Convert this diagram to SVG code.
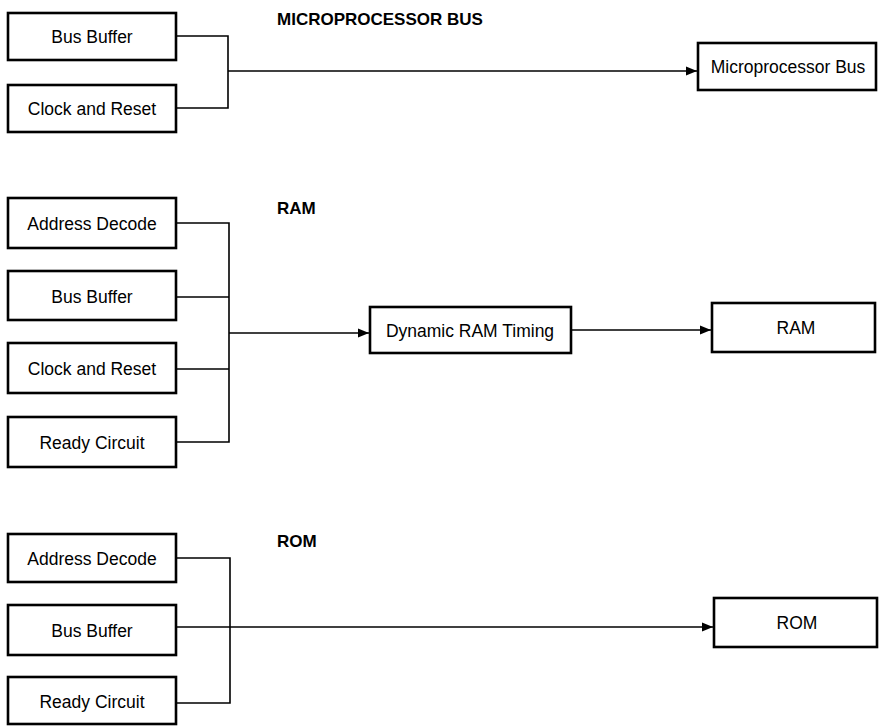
<svg xmlns="http://www.w3.org/2000/svg" width="879" height="726" viewBox="0 0 879 726">
<defs>
<marker id="arr" markerWidth="12" markerHeight="10" refX="11" refY="5" orient="auto" markerUnits="userSpaceOnUse">
<path d="M0,0.5 L11,5 L0,9.5 Z" fill="#000"/>
</marker>
<style>
.box{fill:#fff;stroke:#000;stroke-width:2.6}
.lbl{font-family:"Liberation Sans",Arial,sans-serif;font-size:17.5px;fill:#000;text-anchor:middle;dominant-baseline:central}
.hd{font-family:"Liberation Sans",Arial,sans-serif;font-size:17px;font-weight:bold;fill:#000}
.ln{fill:none;stroke:#000;stroke-width:1.6}
</style>
</defs>
<rect width="879" height="726" fill="#fff"/>

<g id="headings">
<text class="hd" x="277" y="25">MICROPROCESSOR BUS</text>
<text class="hd" x="277" y="214">RAM</text>
<text class="hd" x="277" y="547">ROM</text>
</g>

<g id="connectors">
<!-- Microprocessor bus section -->
<path class="ln" d="M176,36 H228 V108 H176"/>
<path class="ln" d="M228,71 H697" marker-end="url(#arr)"/>
<!-- RAM section -->
<path class="ln" d="M176,223 H229 V442 H176"/>
<path class="ln" d="M176,297 H229"/>
<path class="ln" d="M176,369 H229"/>
<path class="ln" d="M229,333 H369" marker-end="url(#arr)"/>
<path class="ln" d="M571,330 H711" marker-end="url(#arr)"/>
<!-- ROM section -->
<path class="ln" d="M176,558 H230 V703 H176"/>
<path class="ln" d="M176,627 H713" marker-end="url(#arr)"/>
</g>

<g id="mp-bus-buffer"><rect class="box" x="8" y="13" width="168" height="47"/><text class="lbl" x="92" y="37">Bus Buffer</text></g>
<g id="mp-clock-reset"><rect class="box" x="8" y="85" width="168" height="47"/><text class="lbl" x="92" y="109">Clock and Reset</text></g>
<g id="mp-bus"><rect class="box" x="698" y="43" width="178" height="47"/><text class="lbl" x="788" y="67">Microprocessor Bus</text></g>

<g id="ram-address-decode"><rect class="box" x="8" y="198" width="168" height="50"/><text class="lbl" x="92" y="224">Address Decode</text></g>
<g id="ram-bus-buffer"><rect class="box" x="8" y="271" width="168" height="49"/><text class="lbl" x="92" y="297">Bus Buffer</text></g>
<g id="ram-clock-reset"><rect class="box" x="8" y="343" width="168" height="50"/><text class="lbl" x="92" y="369">Clock and Reset</text></g>
<g id="ram-ready-circuit"><rect class="box" x="8" y="417" width="168" height="50"/><text class="lbl" x="92" y="443">Ready Circuit</text></g>
<g id="dram-timing"><rect class="box" x="370" y="307" width="201" height="46"/><text class="lbl" x="470" y="331">Dynamic RAM Timing</text></g>
<g id="ram"><rect class="box" x="712" y="303" width="163" height="49"/><text class="lbl" x="796" y="328">RAM</text></g>

<g id="rom-address-decode"><rect class="box" x="8" y="534" width="168" height="48"/><text class="lbl" x="92" y="559">Address Decode</text></g>
<g id="rom-bus-buffer"><rect class="box" x="8" y="605" width="168" height="50"/><text class="lbl" x="92" y="631">Bus Buffer</text></g>
<g id="rom-ready-circuit"><rect class="box" x="8" y="677" width="168" height="47"/><text class="lbl" x="92" y="702">Ready Circuit</text></g>
<g id="rom"><rect class="box" x="714" y="598" width="163" height="49"/><text class="lbl" x="797" y="623">ROM</text></g>
</svg>
